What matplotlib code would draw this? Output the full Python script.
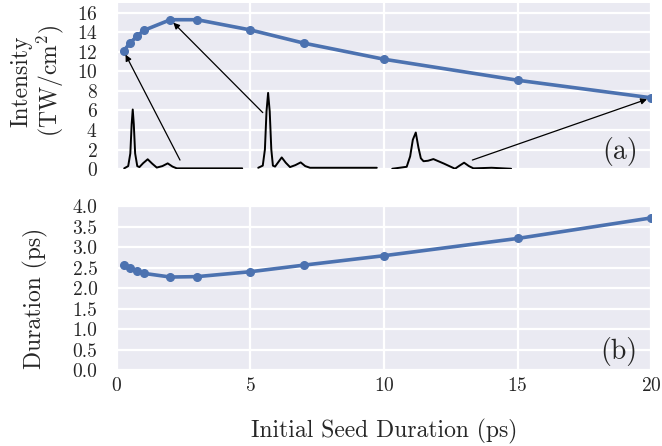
import matplotlib
matplotlib.use("Agg")
import matplotlib.pyplot as plt
import seaborn as sns

# dados principais
seed = [0.25, 0.5, 0.75, 1, 2, 3, 5, 7, 10, 15, 20]
intensity = [12.1, 12.95, 13.6, 14.2, 15.3, 15.3, 14.25, 12.9, 11.25, 9.1, 7.3]
duration = [2.56, 2.48, 2.42, 2.36, 2.27, 2.28, 2.40, 2.56, 2.79, 3.21, 3.71]

# perfis dos pulsos (inserções)
pulse1_x = [0.27, 0.42, 0.5, 0.55, 0.59, 0.63, 0.68, 0.76, 0.84, 0.98, 1.15, 1.32, 1.49, 1.7, 1.9, 2.08, 2.24, 4.69]
pulse1_y = [0.07, 0.3, 1.6, 4.6, 6.1, 4.6, 1.6, 0.3, 0.2, 0.6, 1.0, 0.55, 0.15, 0.3, 0.58, 0.25, 0.07, 0.07]
pulse2_x = [5.29, 5.46, 5.54, 5.6, 5.66, 5.72, 5.78, 5.84, 5.92, 6.04, 6.17, 6.32, 6.48, 6.68, 6.88, 7.05, 7.23, 9.73]
pulse2_y = [0.13, 0.35, 2.0, 5.9, 7.8, 5.9, 2.0, 0.35, 0.25, 0.7, 1.19, 0.65, 0.2, 0.4, 0.68, 0.3, 0.13, 0.13]
pulse3_x = [10.31, 10.85, 10.98, 11.08, 11.19, 11.29, 11.38, 11.48, 11.65, 11.85, 12.25, 12.66, 12.83, 13.0, 13.18, 13.35, 14.03, 14.76]
pulse3_y = [0.03, 0.23, 1.3, 3.0, 3.74, 2.2, 1.1, 0.8, 0.85, 1.02, 0.55, 0.03, 0.35, 0.65, 0.3, 0.07, 0.13, 0.03]

# setas: (origem, destino)
arrows = [((2.36, 0.92), (0.25, 12.1)),
          ((5.46, 5.78), (2, 15.3)),
          ((13.31, 0.92), (20, 7.3))]

sns.set_style("darkgrid")
plt.rcParams['font.family'] = 'serif'
plt.rcParams['font.serif'] = ['cmr10']
plt.rcParams['mathtext.fontset'] = 'cm'
plt.rcParams['axes.formatter.use_mathtext'] = True
plt.rcParams['grid.linewidth'] = 1.6

fig = plt.figure(figsize=(6.62, 4.46), dpi=100)
ax1 = fig.add_axes([0.1767, 0.621, 0.8067, 0.372])
ax2 = fig.add_axes([0.1767, 0.170, 0.8067, 0.368], sharex=ax1)

azul = '#4C72B0'
ax1.plot(seed, intensity, '-o', color=azul, lw=2.6, ms=5.5, zorder=3)
for px, py in [(pulse1_x, pulse1_y), (pulse2_x, pulse2_y), (pulse3_x, pulse3_y)]:
    ax1.plot(px, py, color='black', lw=1.4, zorder=2)
for (x0, y0), (x1, y1) in arrows:
    ax1.annotate('', xy=(x1, y1), xytext=(x0, y0),
                 arrowprops=dict(arrowstyle='-|>', color='black', lw=0.9,
                                 mutation_scale=9, shrinkA=0, shrinkB=3))
ax1.set_ylim(0, 17)
ax1.set_yticks(range(0, 17, 2))
ax1.set_ylabel('Intensity\n(TW/cm$^2$)', fontsize=17, linespacing=1.1)
ax1.yaxis.set_label_coords(-0.095, 0.53)
ax1.text(19.5, 0.35, '(a)', fontsize=20, ha='right', va='bottom')
plt.setp(ax1.get_xticklabels(), visible=False)

ax2.plot(seed, duration, '-o', color=azul, lw=2.6, ms=5.5, zorder=3)
ax2.set_ylim(0, 4)
ax2.set_yticks([0, 0.5, 1, 1.5, 2, 2.5, 3, 3.5, 4])
ax2.set_yticklabels(['0.0', '0.5', '1.0', '1.5', '2.0', '2.5', '3.0', '3.5', '4.0'])
ax2.set_xlim(0, 20)
ax2.set_xticks([0, 5, 10, 15, 20])
ax2.set_ylabel('Duration (ps)', fontsize=17)
ax2.yaxis.set_label_coords(-0.13, 0.44)
ax2.set_xlabel('Initial Seed Duration (ps)', fontsize=17, labelpad=17)
ax2.text(19.5, 0.1, '(b)', fontsize=20, ha='right', va='bottom')

for ax in (ax1, ax2):
    ax.tick_params(axis='y', labelsize=14, length=0, pad=14)
    ax.tick_params(axis='x', labelsize=14, length=0, pad=5)
    for s in ax.spines.values():
        s.set_visible(False)

fig.savefig('out.png', dpi=100)
